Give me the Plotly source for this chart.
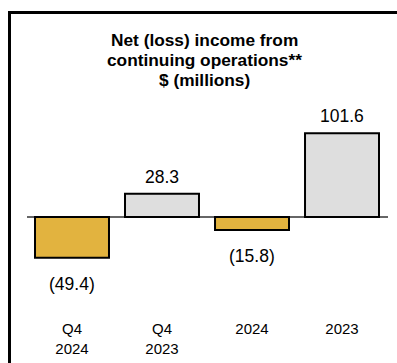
import plotly.graph_objects as go

categories = ["Q4<br>2024", "Q4<br>2023", "2024", "2023"]
values = [-49.4, 28.3, -15.8, 101.6]
value_labels = ["(49.4)", "28.3", "(15.8)", "101.6"]
title_lines = ["Net (loss) income from", "continuing operations**", "$ (millions)"]

W, H = 397, 363
GOLD = "#E2B33F"
GREY = "#DEDEDE"
FONT = "Liberation Sans, Arial, sans-serif"

x_idx = list(range(len(categories)))
colors = [GOLD if v < 0 else GREY for v in values]

# plot area geometry (pixels)
top_px, bot_px = 20, 300
left_px, right_px = 27, 388
zero_px = 217
k = 0.825  # px per unit
ymax = (zero_px - top_px) / k
ymin = -(bot_px - zero_px) / k

fig = go.Figure()
fig.add_trace(go.Bar(
    x=x_idx, y=values, width=0.822,
    marker=dict(color=colors, line=dict(color="black", width=2)),
    hoverinfo="skip",
))

annotations = []
for i, (v, lab) in enumerate(zip(values, value_labels)):
    annotations.append(dict(
        x=i, y=v, xref="x", yref="y", text=lab, showarrow=False,
        yanchor="middle", yshift=(17 if v >= 0 else -26),
        font=dict(family=FONT, size=17.5, color="black"),
    ))
for j, line in enumerate(title_lines):
    annotations.append(dict(
        x=205 / W, y=1 - (40 + 20 * j) / H, xref="paper", yref="paper",
        text="<b>" + line + "</b>", showarrow=False, xanchor="center",
        yanchor="middle", font=dict(family=FONT, size=17.3, color="black"),
        borderpad=0,
    ))

shapes = [
    dict(type="line", xref="paper", yref="paper", x0=9.5 / W, x1=9.5 / W,
         y0=1 - 11 / H, y1=0, line=dict(color="black", width=3), layer="above"),
    dict(type="line", xref="paper", yref="paper", x0=8 / W, x1=1,
         y0=1 - 12.5 / H, y1=1 - 12.5 / H, line=dict(color="black", width=3), layer="above"),
]

fig.update_layout(
    width=W, height=H,
    margin=dict(l=0, r=0, t=0, b=0, pad=0),
    paper_bgcolor="white", plot_bgcolor="white",
    showlegend=False,
    annotations=annotations, shapes=shapes,
    xaxis=dict(
        domain=[left_px / W, right_px / W],
        range=[-0.5, 3.511], tickmode="array", tickvals=x_idx, ticktext=categories,
        showgrid=False, zeroline=False, showline=False, ticks="",
        tickfont=dict(family=FONT, size=15, color="black"),
        ticklabelstandoff=18, fixedrange=True,
    ),
    yaxis=dict(
        domain=[1 - bot_px / H, 1 - top_px / H],
        range=[ymin, ymax], showgrid=False, showticklabels=False, ticks="",
        zeroline=True, zerolinecolor="#666666", zerolinewidth=2, showline=False,
        fixedrange=True,
    ),
)

fig.write_html("out.html")
